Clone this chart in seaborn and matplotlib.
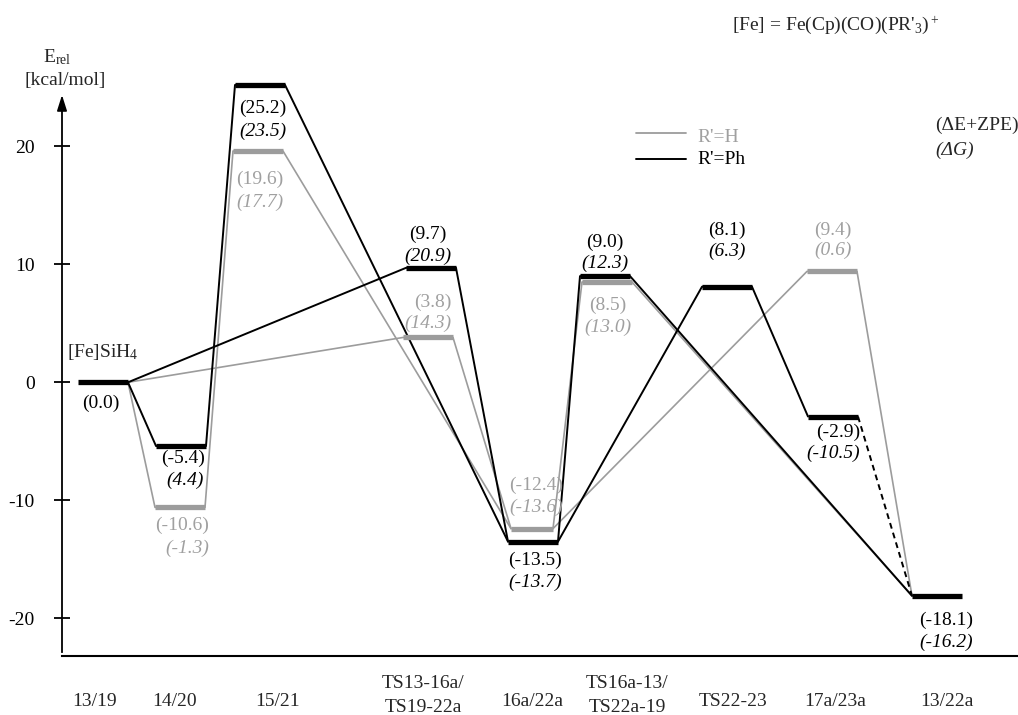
import numpy as np
import pandas as pd
import matplotlib
matplotlib.use("Agg")
import matplotlib.pyplot as plt
import seaborn as sns

# ---------------------------------------------------------------- data
states = ["13/19", "14/20", "15/21", "TS13-16a/\nTS19-22a", "16a/22a",
          "TS16a-13/\nTS22a-19", "TS22-23", "17a/23a", "13/22a"]

# R'=Ph : (dE+ZPE) and (dG), kcal/mol
ph_dE = [0.0, -5.4, 25.2, 9.7, -13.5, 9.0, 8.1, -2.9, -18.1]
ph_dG = [None, 4.4, 23.5, 20.9, -13.7, 12.3, 6.3, -10.5, -16.2]

# R'=H : (dE+ZPE) and (dG); first and last states are shared with R'=Ph
h_dE = [0.0, -10.6, 19.6, 3.8, -12.4, 8.5, None, 9.4, -18.1]
h_dG = [None, -1.3, 17.7, 14.3, -13.6, 13.0, None, 0.6, None]

# reaction paths as sequences of state indices
ph_paths = [[0, 1, 2, 4], [0, 3, 4], [4, 5, 8], [4, 6, 7]]
ph_dashed = [[7, 8]]
h_paths = [[0, 1, 2, 4], [0, 3, 4], [4, 5, 8], [4, 7, 8]]
h_own_bars = [1, 2, 3, 4, 5, 7]

y_ticks = [-20, -10, 0, 10, 20]
y_tick_labels = ["-20", "-10", "0", "10", "20"]

# ---------------------------------------------------------------- layout
W, H = 1018, 715
Y0, S = 382.3, 11.8          # pixel row of E = 0 and pixels per kcal/mol


def ey(py):
    """Convert a pixel row into the energy scale of the axes."""
    return (Y0 - py) / S


ph_x = [103, 181, 260, 431, 533, 605, 727, 833, 937]
h_x = [103, 180, 258, 428, 532, 607, np.nan, 832, 937]
ph_hw = [25] * 9
h_hw = [25, 25, 25, 25, 21, 25, 25, 25, 25]

ph_lab_xe = [101, 183, 263, 428, 535, 605, 727, 838, 946]
ph_lab_xg = [None, 185, 263, 428, 535, 605, 727, 833, 946]
ph_lab_ye = [403, 458, 108, 234, 560, 242, 230, 432, 620]
ph_lab_yg = [None, 480, 131, 256, 582, 263, 251, 453, 642]

h_lab_xe = [None, 182, 260, 433, 536, 608, None, 833, None]
h_lab_xg = [None, 187, 260, 428, 536, 608, None, 833, None]
h_lab_ye = [None, 525, 179, 302, 485, 305, None, 230, None]
h_lab_yg = [None, 548, 202, 323, 507, 327, None, 250, None]

state_lab_x = [95, 175, 278, 423, 532, 627, 733, 835, 947]

BLACK = "#000000"
GREY = "#9c9c9c"
GREY_TXT = "#a0a0a0"
FS = 14

# ---------------------------------------------------------------- style
sns.set_theme(style="white")
plt.rcParams["font.family"] = ["Liberation Serif", "DejaVu Serif"]
plt.rcParams["mathtext.fontset"] = "custom"
plt.rcParams["mathtext.rm"] = "Liberation Serif"
plt.rcParams["mathtext.it"] = "Liberation Serif:italic"
plt.rcParams["mathtext.bf"] = "Liberation Serif:bold"
plt.rcParams["axes.unicode_minus"] = False

fig = plt.figure(figsize=(W / 100, H / 100), dpi=100)
ax = fig.add_axes([0, 0, 1, 1])
ax.set_xlim(0, W)
ax.set_ylim(ey(H), ey(0))


# ---------------------------------------------------------------- connectors
def path_rows(series, xs, hws, es, paths, kind, start_id):
    rows = []
    for pid, path in enumerate(paths):
        pts = []
        for k, i in enumerate(path):
            x_i = xs[i] if not np.isnan(xs[i]) else ph_x[i]
            if k > 0:
                pts.append((x_i - hws[i], es[i]))
            if k < len(path) - 1:
                pts.append((x_i + hws[i], es[i]))
        for order, (x, e) in enumerate(pts):
            rows.append(dict(series=series, path=start_id + pid, kind=kind,
                             order=order, x=x, E=e))
    return rows


h_x_conn = [ph_x[i] if i in (0, 8) else h_x[i] for i in range(9)]
h_hw_conn = [ph_hw[i] if i in (0, 8) else h_hw[i] for i in range(9)]

grey_df = pd.DataFrame(path_rows("H", h_x_conn, h_hw_conn, h_dE, h_paths,
                                 "solid", 0))
black_df = pd.DataFrame(
    path_rows("Ph", ph_x, ph_hw, ph_dE, ph_paths, "solid", 100)
    + path_rows("Ph", ph_x, ph_hw, ph_dE, ph_dashed, "dashed", 200))

sns.lineplot(data=grey_df, x="x", y="E", units="path", estimator=None,
             sort=False, color=GREY, linewidth=1.2, legend=False, ax=ax,
             zorder=2)
sns.lineplot(data=black_df, x="x", y="E", units="path", estimator=None,
             sort=False, style="kind",
             dashes={"solid": "", "dashed": (3.0, 2.2)},
             color=BLACK, linewidth=1.4, legend=False, ax=ax, zorder=3)

# ---------------------------------------------------------------- level bars
gx = np.array([h_x[i] for i in h_own_bars])
ge = np.array([h_dE[i] for i in h_own_bars])
ghw = np.array([h_hw[i] for i in h_own_bars])
ax.hlines(ge, gx - ghw, gx + ghw, colors=GREY, linewidth=3.8,
          capstyle="butt", zorder=4)
bx = np.array(ph_x)
ax.hlines(ph_dE, bx - np.array(ph_hw), bx + np.array(ph_hw), colors=BLACK,
          linewidth=3.8, capstyle="butt", zorder=5)

# ---------------------------------------------------------------- value labels
for i in range(9):
    if ph_lab_xe[i] is not None:
        ax.text(ph_lab_xe[i], ey(ph_lab_ye[i]), f"({ph_dE[i]:.1f})",
                ha="center", va="center", fontsize=FS, color=BLACK)
    if ph_dG[i] is not None:
        ax.text(ph_lab_xg[i], ey(ph_lab_yg[i]), f"({ph_dG[i]:.1f})",
                ha="center", va="center", fontsize=FS, color=BLACK,
                style="italic")
    if h_lab_xe[i] is not None:
        ax.text(h_lab_xe[i], ey(h_lab_ye[i]), f"({h_dE[i]:.1f})",
                ha="center", va="center", fontsize=FS, color=GREY_TXT)
    if h_dG[i] is not None:
        ax.text(h_lab_xg[i], ey(h_lab_yg[i]), f"({h_dG[i]:.1f})",
                ha="center", va="center", fontsize=FS, color=GREY_TXT,
                style="italic")

ax.text(103, ey(352), r"[Fe]SiH$_4$", ha="center", va="center", fontsize=FS)

# ---------------------------------------------------------------- state names
for i, name in enumerate(states):
    lines = name.split("\n")
    if len(lines) == 1:
        ax.text(state_lab_x[i], ey(702), lines[0], ha="center", va="center",
                fontsize=FS)
    else:
        ax.text(state_lab_x[i], ey(683), lines[0], ha="center", va="center",
                fontsize=FS)
        ax.text(state_lab_x[i], ey(707), lines[1], ha="center", va="center",
                fontsize=FS)

# ---------------------------------------------------------------- axes
for side in ("top", "right"):
    ax.spines[side].set_visible(False)
ax.spines["left"].set_position(("data", 62))
ax.spines["left"].set_bounds(ey(652), ey(106))
ax.spines["left"].set_color(BLACK)
ax.spines["left"].set_linewidth(1.3)
ax.spines["bottom"].set_position(("data", ey(656)))
ax.spines["bottom"].set_bounds(62, W)
ax.spines["bottom"].set_color(BLACK)
ax.spines["bottom"].set_linewidth(1.5)

ax.set_xticks([])
ax.set_yticks(y_ticks)
ax.set_yticklabels(y_tick_labels, fontsize=FS)
ax.tick_params(axis="y", left=True, direction="inout", length=12.2,
               width=1.3, pad=13.5, colors=BLACK)
ax.set_xlabel("")
ax.set_ylabel("")
ax.grid(False)

ax.annotate("", xy=(62, ey(95)), xytext=(62, ey(108)),
            arrowprops=dict(arrowstyle="-|>,head_length=0.95,head_width=0.3",
                            color=BLACK, lw=1.2, shrinkA=0, shrinkB=0,
                            mutation_scale=10))
ax.text(57, ey(62), r"E$_{\rm rel}$", ha="center", va="baseline", fontsize=FS)
ax.text(65, ey(80), "[kcal/mol]", ha="center", va="center", fontsize=FS)

# ---------------------------------------------------------------- legend & notes
ax.plot([636, 686], [ey(133), ey(133)], color=GREY, linewidth=1.3)
ax.text(697, ey(138), "R'=H", ha="left", va="center", fontsize=FS,
        color=GREY_TXT)
ax.plot([636, 686], [ey(159), ey(159)], color=BLACK, linewidth=1.4)
ax.text(697, ey(160), "R'=Ph", ha="left", va="center", fontsize=FS,
        color=BLACK)

ax.text(935, ey(125), "(ΔE+ZPE)", ha="left", va="center", fontsize=FS)
ax.text(935, ey(150), "(ΔG)", ha="left", va="center", fontsize=FS,
        style="italic")
ax.text(732, ey(25), r"[Fe] = Fe(Cp)(CO)(PR'$_3$)$^+$", ha="left",
        va="center", fontsize=FS)

fig.savefig("out.png", dpi=100, facecolor="white")
